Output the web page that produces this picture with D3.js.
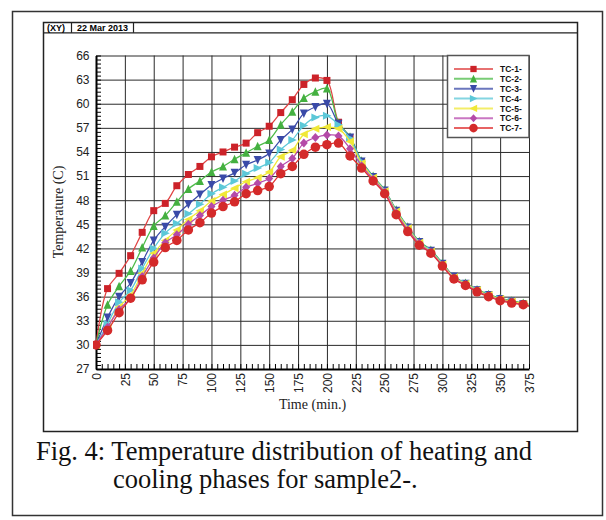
<!DOCTYPE html>
<html><head><meta charset="utf-8">
<script src="https://cdn.jsdelivr.net/npm/d3@7"></script>
<style>body{margin:0;background:#fff}</style>
</head><body>
<svg id="c" width="606" height="520"></svg>
<script>
const times = [0,10,20,30,40,50,60,70,80,90,100,110,120,130,140,150,160,170,180,190,200,
  210,220,230,240,250,260,270,280,290,300,310,320,330,340,350,360,370,380];
const tc1 = [30.0,37.0,38.9,41.1,44.0,46.7,47.6,49.8,51.2,52.2,53.4,54.0,54.6,55.1,56.4,57.2,58.9,60.5,62.4,63.2,62.9,
  57.7,55.8,52.7,50.8,49.1,46.6,44.5,42.7,41.7,40.1,38.4,37.6,36.8,36.2,35.7,35.4,35.1,34.8];
const tc2 = [30.0,35.0,37.3,39.2,42.1,44.8,46.1,47.8,49.4,50.4,51.5,52.2,53.1,53.9,54.7,55.5,57.4,59.0,60.7,61.5,61.9,
  57.6,55.9,52.9,51.0,49.3,46.8,44.7,42.9,41.8,40.2,38.5,37.7,36.9,36.3,35.8,35.5,35.2,34.9];
const tc3 = [30.0,33.4,36.0,37.7,40.3,43.0,44.7,46.2,47.5,48.7,49.9,50.7,51.4,52.4,53.0,53.8,55.5,56.8,58.8,59.6,60.0,
  57.5,55.8,52.8,50.9,49.2,46.7,44.6,42.8,41.7,40.1,38.5,37.6,36.8,36.2,35.7,35.4,35.1,34.8];
const tc4 = [30.0,32.6,35.3,36.8,39.5,42.0,43.9,45.1,46.3,47.5,48.8,49.6,50.4,51.3,52.0,52.7,54.3,55.5,57.3,58.3,58.5,
  57.4,55.7,52.8,50.9,49.2,46.7,44.6,42.8,41.7,40.1,38.4,37.6,36.8,36.2,35.7,35.4,35.1,34.8];
const tc5 = [30.0,32.1,34.7,36.2,38.9,41.4,43.0,44.3,45.6,46.7,47.9,48.7,49.5,50.3,50.8,51.5,53.4,54.2,56.2,56.9,57.1,
  56.9,55.3,52.6,50.8,49.1,46.6,44.5,42.7,41.6,40.0,38.4,37.6,36.8,36.2,35.7,35.4,35.1,34.8];
const tc6 = [30.0,32.2,34.4,35.8,38.5,40.8,42.7,43.7,45.0,46.1,47.2,48.0,48.6,49.6,50.1,50.7,52.2,53.2,55.1,55.8,56.1,
  56.0,54.4,52.3,50.6,49.0,46.4,44.3,42.6,41.5,39.9,38.3,37.5,36.7,36.1,35.6,35.3,35.0,34.7];
const tc7 = [30.0,31.8,34.0,35.8,38.1,40.3,42.1,43.0,44.3,45.2,46.4,47.2,47.8,48.8,49.2,49.7,51.3,52.2,53.7,54.6,54.9,
  55.1,53.5,52.0,50.4,48.8,46.2,44.1,42.4,41.4,39.8,38.2,37.4,36.6,36.0,35.5,35.2,35.0,34.6];
const seriesNames = ["TC-1-","TC-2-","TC-3-","TC-4-","TC-5-","TC-6-","TC-7-"];
const seriesValues = [tc1,tc2,tc3,tc4,tc5,tc6,tc7];
const xTicks = [0,25,50,75,100,125,150,175,200,225,250,275,300,325,350,375];
const yTicks = [27,30,33,36,39,42,45,48,51,54,57,60,63,66];

const styles = [
  {shape:"square",  line:"#e04444", fill:"#cc2229", size:7},
  {shape:"up",      line:"#4cbb48", fill:"#44b040", size:8},
  {shape:"down",    line:"#3a4aa8", fill:"#3a4aa8", size:8},
  {shape:"right",   line:"#5cc8d8", fill:"#5cc8d8", size:8},
  {shape:"left",    line:"#f0e838", fill:"#f0e838", size:8},
  {shape:"diamond", line:"#b84aae", fill:"#b44aa8", size:8},
  {shape:"circle",  line:"#e03030", fill:"#d42a2a", size:9.5}
];
function shapePath(t, s){
  const h = s/2;
  switch(t){
    case "square": return `M${-h},${-h}H${h}V${h}H${-h}Z`;
    case "up": return `M0,${-h-0.5}L${h},${h}L${-h},${h}Z`;
    case "down": return `M0,${h+0.5}L${h},${-h}L${-h},${-h}Z`;
    case "right": return `M${h+0.5},0L${-h},${-h}L${-h},${h}Z`;
    case "left": return `M${-h-0.5},0L${h},${-h}L${h},${h}Z`;
    case "diamond": return `M0,${-h-0.5}L${h},0L0,${h+0.5}L${-h},0Z`;
    case "circle": return `M${h},0A${h},${h} 0 1,1 ${-h},0A${h},${h} 0 1,1 ${h},0Z`;
  }
}

const svg = d3.select("#c");
svg.append("rect").attr("width",606).attr("height",520).attr("fill","#fff");
// frames
svg.append("rect").attr("x",12.5).attr("y",11.5).attr("width",590).attr("height",504)
  .attr("fill","none").attr("stroke","#333").attr("stroke-width",1.5);
svg.append("rect").attr("x",43.5).attr("y",22.5).attr("width",534).attr("height",409)
  .attr("fill","none").attr("stroke","#222").attr("stroke-width",1.5);
// header strip
svg.append("line").attr("x1",43.5).attr("x2",577.5).attr("y1",32.8).attr("y2",32.8).attr("stroke","#222").attr("stroke-width",1.2);
[71.5,133.5].forEach(v=>svg.append("line").attr("x1",v).attr("x2",v).attr("y1",22.5).attr("y2",32.8).attr("stroke","#222").attr("stroke-width",1.2));
svg.append("text").attr("x",47).attr("y",31).attr("font-family","Liberation Sans, Arial").attr("font-weight","bold").attr("font-size",9).text("(XY)");
svg.append("text").attr("x",102.5).attr("y",31).attr("text-anchor","middle").attr("font-family","Liberation Sans, Arial").attr("font-weight","bold").attr("font-size",9).text("22 Mar 2013");

const x = d3.scaleLinear().domain([0,375]).range([96,529]);
const y = d3.scaleLinear().domain([27,66]).range([369,55.5]);

// gridlines
const gx = svg.append("g").attr("transform","translate(0,369)")
  .call(d3.axisBottom(x).tickValues(xTicks.slice(1)).tickSize(-(369-55.5)).tickFormat(""));
gx.select(".domain").remove();
gx.selectAll("line").attr("stroke","#2a2a2a").attr("stroke-width",1);
const gy = svg.append("g").attr("transform","translate(96,0)")
  .call(d3.axisLeft(y).tickValues(yTicks.slice(1)).tickSize(-(529-96)).tickFormat(""));
gy.select(".domain").remove();
gy.selectAll("line").attr("stroke","#2a2a2a").attr("stroke-width",1);

// minor ticks
const yMinor = d3.range(27,66.01,0.5);
const my = svg.append("g").attr("transform","translate(96,0)")
  .call(d3.axisRight(y).tickValues(yMinor).tickSize(5).tickFormat(""));
my.select(".domain").remove();
my.selectAll("line").attr("stroke","#000").attr("stroke-width",1);
const xMinor = d3.range(0,375.01,5);
const mx = svg.append("g").attr("transform","translate(0,369)")
  .call(d3.axisTop(x).tickValues(xMinor).tickSize(5).tickFormat(""));
mx.select(".domain").remove();
mx.selectAll("line").attr("stroke","#000").attr("stroke-width",1);

// axis lines and labels
const ay = svg.append("g").attr("transform","translate(96,0)")
  .call(d3.axisLeft(y).tickValues(yTicks).tickSize(0).tickPadding(6.5).tickSizeOuter(0));
ay.select(".domain").attr("stroke","#000").attr("stroke-width",2);
ay.selectAll("text").attr("font-family","Liberation Sans, Arial").attr("font-size",12).attr("fill","#222");
const ax = svg.append("g").attr("transform","translate(0,369)")
  .call(d3.axisBottom(x).tickValues(xTicks).tickSize(0).tickSizeOuter(0));
ax.select(".domain").attr("stroke","#000").attr("stroke-width",2);
ax.selectAll("text").attr("font-family","Liberation Sans, Arial").attr("font-size",12).attr("fill","#222")
  .attr("transform","rotate(-90)").attr("text-anchor","end").attr("x",-4).attr("y",0).attr("dy","0.35em");

// axis titles
svg.append("text").attr("transform","translate(63,212) rotate(-90)").attr("text-anchor","middle")
  .attr("font-family","Liberation Serif, Times New Roman").attr("font-size",14).attr("fill","#222").text("Temperature (C)");
svg.append("text").attr("x",312.5).attr("y",409).attr("text-anchor","middle")
  .attr("font-family","Liberation Serif, Times New Roman").attr("font-size",14).attr("fill","#222").text("Time (min.)");

// data
svg.append("clipPath").attr("id","clip").append("rect").attr("x",93).attr("y",50).attr("width",436).attr("height",325);
const plot = svg.append("g").attr("clip-path","url(#clip)");
const lineGen = d3.line().x(d=>x(d[0])).y(d=>y(d[1])).curve(d3.curveCatmullRom.alpha(0.5));
seriesValues.forEach((vals,i)=>{
  const st = styles[i];
  const pts = times.map((t,j)=>[t, vals[j]]);
  plot.append("path").datum(pts).attr("d",lineGen).attr("fill","none").attr("stroke",st.line).attr("stroke-width",1.25);
  plot.selectAll(null).data(pts).enter().append("path")
    .attr("transform",d=>`translate(${x(d[0])},${y(d[1])})`)
    .attr("d",shapePath(st.shape, st.size)).attr("fill",st.fill);
});

// legend
const lg = svg.append("g");
lg.append("rect").attr("x",447.5).attr("y",55.5).attr("width",81.5).attr("height",82)
  .attr("fill","#fff").attr("stroke","#555").attr("stroke-width",1.5);
seriesNames.forEach((n,i)=>{
  const st = styles[i];
  const yy = 69 + i*9.85;
  lg.append("line").attr("x1",454).attr("x2",493).attr("y1",yy).attr("y2",yy).attr("stroke",st.line).attr("stroke-width",2).attr("opacity",0.75);
  lg.append("path").attr("transform",`translate(473.5,${yy})`).attr("d",shapePath(st.shape, st.size*0.9)).attr("fill",st.fill);
  lg.append("text").attr("x",500).attr("y",yy+3.2).attr("font-family","Liberation Sans, Arial").attr("font-weight","bold").attr("font-size",8.5).attr("fill","#111").text(n);
});

// caption
svg.append("text").attr("x",36).attr("y",460).attr("font-family","Liberation Serif, Times New Roman").attr("font-size",26.5).attr("fill","#111")
  .text("Fig. 4: Temperature distribution of heating and");
svg.append("text").attr("x",113).attr("y",488).attr("font-family","Liberation Serif, Times New Roman").attr("font-size",26.5).attr("fill","#111")
  .text("cooling phases for sample2-.");
</script>
</body></html>
